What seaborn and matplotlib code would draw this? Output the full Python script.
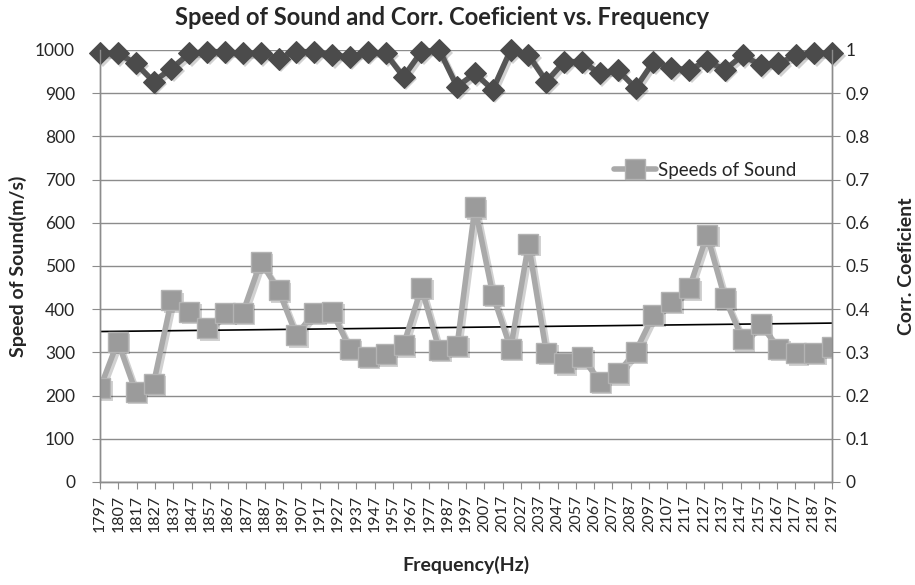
import matplotlib
matplotlib.use("Agg")
import matplotlib.pyplot as plt
from matplotlib.transforms import offset_copy
import seaborn as sns
import numpy as np
import pandas as pd

# values
freq_labels = [str(1797 + 10 * k) for k in range(41)]
speeds = [217, 325, 209, 228, 421, 394, 356, 392, 392, 510,
          444, 340, 392, 394, 309, 290, 296, 317, 450, 306,
          315, 636, 433, 309, 551, 299, 275, 289, 232, 252,
          302, 387, 417, 448, 572, 425, 330, 366, 309, 298,
          299, 313]
corr = [0.992, 0.992, 0.969, 0.927, 0.957, 0.992, 0.996, 0.996, 0.992, 0.992,
        0.980, 0.996, 0.996, 0.988, 0.984, 0.996, 0.992, 0.938, 0.996, 1.0,
        0.915, 0.946, 0.908, 1.0, 0.988, 0.927, 0.973, 0.973, 0.946, 0.954,
        0.912, 0.973, 0.958, 0.954, 0.975, 0.954, 0.988, 0.965, 0.969, 0.988,
        0.992, 0.992]

df = pd.DataFrame({'pos': np.arange(len(speeds)), 'speed': speeds, 'corr': corr})

sns.set_style("white")
plt.rcParams['font.family'] = ['Lato', 'DejaVu Sans']

fig = plt.figure(figsize=(9.15, 5.85), dpi=100)
ax = fig.add_axes([100 / 915, 1 - 482 / 585, 732 / 915, 432 / 585])
ax2 = ax.twinx()

# soft drop shadows, offset copies of the series
sh1 = offset_copy(ax.transData, fig=fig, x=2.5, y=-2.5, units='dots')
sh2 = offset_copy(ax2.transData, fig=fig, x=2.5, y=-2.5, units='dots')

# linear trend line of the speeds
slope, icpt = np.polyfit(df['pos'], df['speed'], 1)
ax.plot(df['pos'], slope * df['pos'] + icpt, color='black', linewidth=1.2, zorder=2.5)

ax.plot(df['pos'], df['speed'], transform=sh1, color='black', alpha=0.18, linewidth=4,
        marker='s', markersize=14, markeredgewidth=0, zorder=2.6)
sns.lineplot(data=df, x='pos', y='speed', ax=ax, color='#a9a9a9', linewidth=4,
             marker='s', markersize=14, markerfacecolor='#9b9b9b',
             markeredgecolor='#b3b3b3', markeredgewidth=1,
             label='Speeds of Sound', zorder=3)

ax2.plot(df['pos'], df['corr'], transform=sh2, color='black', alpha=0.18, linewidth=4,
         marker='D', markersize=11, markeredgewidth=0, clip_on=False)
sns.lineplot(data=df, x='pos', y='corr', ax=ax2, color='#555555', linewidth=4,
             marker='D', markersize=11, markerfacecolor='#4b4b4b',
             markeredgecolor='#4b4b4b', legend=False, clip_on=False)

ax.set_xlim(0, len(speeds) - 1)
ax.set_ylim(0, 1000)
ax2.set_ylim(0, 1)
ax.set_yticks(np.arange(0, 1001, 100))
ax2.set_yticks(np.arange(0, 1.01, 0.1))
ax2.set_yticklabels(['0', '0.1', '0.2', '0.3', '0.4', '0.5', '0.6', '0.7', '0.8', '0.9', '1'])
# the category labels run evenly from the first point to the last one
ax.set_xticks(np.linspace(0, len(speeds) - 1, len(freq_labels)))
ax.set_xticklabels(freq_labels, rotation=90, fontsize=11.5)

ax.grid(axis='y', color='#8c8c8c', linewidth=1)
ax.set_axisbelow(True)
for a in (ax, ax2):
    a.spines['top'].set_visible(False)
    for s in ('left', 'right', 'bottom'):
        a.spines[s].set_color('#8c8c8c')
        a.spines[s].set_linewidth(1)
ax.tick_params(axis='y', direction='out', length=6, color='#8c8c8c', labelsize=12.5,
               left=True, pad=12)
ax.tick_params(axis='x', direction='out', length=5, color='#8c8c8c', bottom=True, pad=4)
ax2.tick_params(axis='y', direction='out', length=6, color='#8c8c8c', labelsize=12.5,
                right=True, pad=4)

ax.set_xlabel('Frequency(Hz)', fontsize=14, fontweight='bold', labelpad=17)
ax.set_ylabel('Speed of Sound(m/s)', fontsize=14, fontweight='bold', labelpad=6)
ax2.set_ylabel('Corr. Coeficient', fontsize=14, fontweight='bold', labelpad=20)
fig.suptitle('Speed of Sound and Corr. Coeficient vs. Frequency', fontsize=17,
             fontweight='bold', x=0.483, y=0.99)

ax.legend(loc='center left', bbox_to_anchor=(0.69, 0.722), frameon=False,
          fontsize=13.5, handlelength=2.2, handletextpad=0.1, borderpad=0)

fig.savefig('out.png', dpi=100)
